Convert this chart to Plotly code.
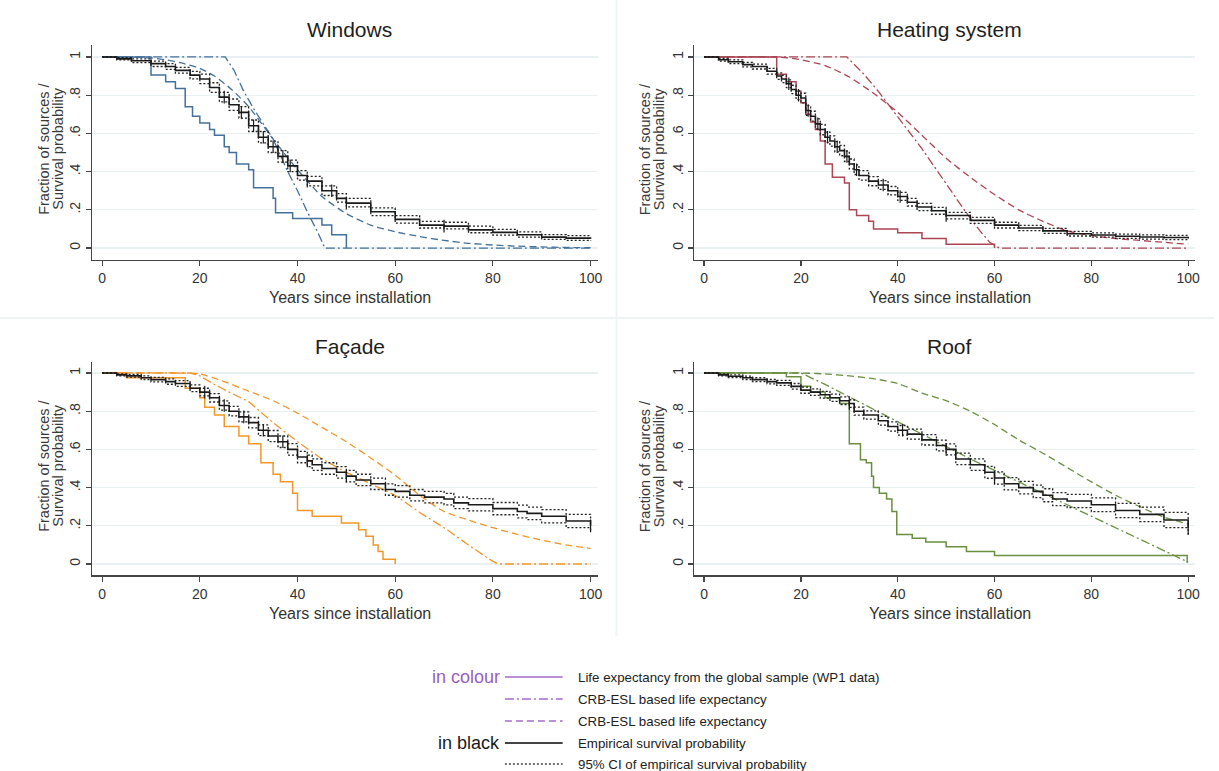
import plotly.graph_objects as go

# ---------------- DATA ----------------
# Windows
win_glob_x = [0, 10, 13, 15, 17, 18.5, 20, 22, 23, 25, 26, 27.5, 30, 31, 35, 35.5, 39, 45, 47, 50]
win_glob_y = [1, 0.905, 0.87, 0.835, 0.74, 0.69, 0.655, 0.62, 0.59, 0.53, 0.50, 0.44, 0.41, 0.315, 0.26, 0.185, 0.155, 0.12, 0.07, 0]
win_dd_x = [0, 25.2, 27, 29, 31, 35, 38, 40, 42, 44, 45.6, 100]
win_dd_y = [1, 1, 0.93, 0.82, 0.73, 0.57, 0.40, 0.30, 0.19, 0.09, 0, 0]
win_da_x = [0, 5, 10, 13, 16, 20, 23, 26.5, 30, 35, 40, 45, 50, 55, 60, 65, 70, 75, 80, 85, 90, 95, 100]
win_da_y = [1, 1, 0.995, 0.985, 0.97, 0.94, 0.9, 0.83, 0.74, 0.57, 0.41, 0.27, 0.18, 0.12, 0.085, 0.06, 0.04, 0.025, 0.016, 0.01, 0.006, 0.003, 0.002]
win_km_x = [0, 3, 6, 10, 13, 15, 18, 20, 22, 24, 26, 28, 30, 32, 34, 36, 38, 40, 42, 45, 48, 50, 55, 60, 65, 70, 75, 80, 85, 90, 95, 100]
win_km_y = [1, 0.99, 0.98, 0.965, 0.95, 0.93, 0.905, 0.885, 0.84, 0.79, 0.75, 0.71, 0.64, 0.58, 0.53, 0.48, 0.43, 0.38, 0.35, 0.30, 0.26, 0.235, 0.19, 0.15, 0.12, 0.115, 0.095, 0.082, 0.07, 0.057, 0.052, 0.049]
win_lo_y = [1, 0.985, 0.97, 0.95, 0.935, 0.915, 0.885, 0.86, 0.815, 0.765, 0.72, 0.68, 0.61, 0.55, 0.50, 0.45, 0.40, 0.355, 0.325, 0.275, 0.24, 0.215, 0.17, 0.13, 0.105, 0.10, 0.08, 0.068, 0.057, 0.045, 0.04, 0.037]
win_hi_y = [1, 0.997, 0.99, 0.978, 0.965, 0.945, 0.925, 0.91, 0.865, 0.815, 0.78, 0.74, 0.67, 0.61, 0.56, 0.51, 0.46, 0.405, 0.375, 0.325, 0.285, 0.26, 0.21, 0.17, 0.14, 0.135, 0.115, 0.098, 0.085, 0.07, 0.065, 0.062]
win_censor_x = [25, 28.5, 31, 33, 35, 37, 38.5, 42, 47, 50, 70]

# Heating system
hea_glob_x = [0, 15, 17, 19, 20, 21, 22, 23, 24, 25, 26.5, 29, 30, 31.5, 34, 35, 40, 45, 50, 60]
hea_glob_y = [1, 0.91, 0.87, 0.82, 0.76, 0.70, 0.66, 0.62, 0.56, 0.44, 0.37, 0.34, 0.20, 0.17, 0.14, 0.10, 0.08, 0.05, 0.02, 0]
hea_dd_x = [0, 29.5, 33, 36, 39, 42, 45, 48, 51, 54, 57, 59, 61, 100]
hea_dd_y = [1, 1, 0.91, 0.82, 0.72, 0.62, 0.52, 0.41, 0.30, 0.19, 0.09, 0.03, 0, 0]
hea_da_x = [0, 15, 19, 25, 30, 35, 40, 45, 50, 55, 60, 65, 70, 75, 80, 85, 90, 95, 100]
hea_da_y = [1, 1, 0.99, 0.955, 0.895, 0.81, 0.71, 0.59, 0.47, 0.37, 0.28, 0.20, 0.14, 0.09, 0.065, 0.05, 0.04, 0.03, 0.02]
hea_km_x = [0, 3, 5, 8, 10, 13, 15, 16, 17, 18, 19, 20, 21, 22, 23, 24, 25, 26, 27, 28, 29, 30, 31, 32, 34, 36, 38, 40, 42, 44, 47, 50, 55, 60, 65, 70, 75, 80, 85, 90, 95, 100]
hea_km_y = [1, 0.985, 0.975, 0.96, 0.95, 0.925, 0.9, 0.885, 0.86, 0.83, 0.8, 0.785, 0.72, 0.69, 0.65, 0.62, 0.58, 0.56, 0.53, 0.51, 0.48, 0.44, 0.41, 0.38, 0.35, 0.33, 0.3, 0.27, 0.24, 0.215, 0.195, 0.17, 0.145, 0.12, 0.105, 0.09, 0.075, 0.068, 0.062, 0.058, 0.055, 0.05]
hea_lo_y = [1, 0.978, 0.965, 0.948, 0.937, 0.91, 0.883, 0.866, 0.84, 0.808, 0.777, 0.76, 0.695, 0.664, 0.624, 0.593, 0.553, 0.533, 0.503, 0.483, 0.453, 0.414, 0.385, 0.355, 0.326, 0.307, 0.278, 0.249, 0.22, 0.196, 0.177, 0.153, 0.129, 0.105, 0.091, 0.077, 0.063, 0.057, 0.051, 0.047, 0.044, 0.038]
hea_hi_y = [1, 0.992, 0.985, 0.972, 0.963, 0.94, 0.917, 0.904, 0.88, 0.852, 0.823, 0.81, 0.745, 0.716, 0.676, 0.647, 0.607, 0.587, 0.557, 0.537, 0.507, 0.466, 0.435, 0.405, 0.374, 0.353, 0.322, 0.291, 0.26, 0.234, 0.213, 0.187, 0.161, 0.135, 0.119, 0.103, 0.087, 0.079, 0.073, 0.069, 0.066, 0.062]
hea_censor_x = [17.5, 19.5, 21.5, 23.5, 25.5, 27.5, 29.5, 31.5, 37, 40.5, 50]

# Facade
fac_glob_x = [0, 5, 17, 20, 21, 23, 25, 28, 30, 32.5, 35, 36.5, 39, 40, 43, 49, 52.5, 54, 55.5, 56.5, 57.5, 60]
fac_glob_y = [1, 0.975, 0.92, 0.87, 0.82, 0.78, 0.72, 0.67, 0.63, 0.53, 0.47, 0.43, 0.37, 0.28, 0.25, 0.215, 0.18, 0.145, 0.10, 0.065, 0.025, 0]
fac_dd_x = [0, 18, 20, 23, 26, 30, 35, 40, 45, 50, 55, 60, 65, 70, 75, 79, 81, 100]
fac_dd_y = [1, 1, 0.985, 0.94, 0.90, 0.85, 0.74, 0.64, 0.55, 0.48, 0.42, 0.36, 0.27, 0.19, 0.10, 0.03, 0, 0]
fac_da_x = [0, 15, 20, 25, 30, 35, 40, 45, 50, 55, 60, 65, 70, 75, 80, 85, 90, 95, 100]
fac_da_y = [1, 1, 0.995, 0.955, 0.905, 0.855, 0.79, 0.715, 0.64, 0.555, 0.465, 0.36, 0.275, 0.23, 0.19, 0.155, 0.125, 0.10, 0.082]
fac_km_x = [0, 3, 5, 8, 10, 13, 15, 18, 20, 22, 24, 26, 28, 30, 32, 34, 36, 38, 40, 42, 43, 45, 48, 50, 52, 55, 58, 60, 63, 66, 70, 72, 75, 80, 85, 87, 90, 95, 100]
fac_km_y = [1, 0.99, 0.985, 0.975, 0.965, 0.955, 0.945, 0.92, 0.9, 0.87, 0.83, 0.8, 0.77, 0.74, 0.7, 0.67, 0.64, 0.6, 0.56, 0.54, 0.52, 0.5, 0.48, 0.46, 0.44, 0.42, 0.39, 0.38, 0.36, 0.35, 0.34, 0.32, 0.31, 0.29, 0.275, 0.265, 0.25, 0.225, 0.2]
fac_lo_y = [1, 0.985, 0.978, 0.965, 0.953, 0.941, 0.93, 0.902, 0.88, 0.848, 0.806, 0.775, 0.744, 0.713, 0.672, 0.641, 0.61, 0.57, 0.53, 0.51, 0.49, 0.47, 0.45, 0.43, 0.41, 0.39, 0.36, 0.35, 0.33, 0.32, 0.31, 0.29, 0.278, 0.258, 0.242, 0.232, 0.215, 0.19, 0.164]
fac_hi_y = [1, 0.995, 0.992, 0.985, 0.977, 0.969, 0.96, 0.938, 0.92, 0.892, 0.854, 0.825, 0.796, 0.767, 0.728, 0.699, 0.67, 0.63, 0.59, 0.57, 0.55, 0.53, 0.51, 0.49, 0.47, 0.45, 0.42, 0.41, 0.39, 0.38, 0.37, 0.35, 0.342, 0.322, 0.308, 0.298, 0.285, 0.26, 0.236]
fac_censor_x = [21, 25, 29, 33, 37, 42, 50, 100]

# Roof
roo_glob_x = [0, 17, 20, 22, 25, 28, 30, 32.3, 33.5, 34.6, 35, 36.2, 37.7, 38.8, 39.8, 43, 45.8, 50, 54.2, 60, 99.8, 100]
roo_glob_y = [1, 0.98, 0.93, 0.9, 0.87, 0.84, 0.63, 0.546, 0.53, 0.46, 0.40, 0.37, 0.34, 0.275, 0.155, 0.135, 0.115, 0.09, 0.065, 0.045, 0.01, 0.01]
roo_dd_x = [0, 20, 25, 30, 35, 40, 45, 50, 55, 60, 65, 70, 75, 80, 85, 90, 95, 100]
roo_dd_y = [1, 1, 0.94, 0.875, 0.81, 0.745, 0.68, 0.615, 0.55, 0.49, 0.43, 0.37, 0.31, 0.25, 0.19, 0.13, 0.07, 0.01]
roo_da_x = [0, 20, 25, 30, 35, 40, 45, 50, 55, 60, 65, 70, 75, 80, 85, 90, 95, 100]
roo_da_y = [1, 1, 0.995, 0.985, 0.97, 0.945, 0.895, 0.855, 0.8, 0.73, 0.65, 0.58, 0.505, 0.43, 0.36, 0.30, 0.245, 0.21]
roo_km_x = [0, 3, 5, 8, 10, 13, 15, 18, 20, 22, 24, 26, 28, 30, 31, 33, 36, 38, 40, 42, 45, 48, 50, 52, 55, 58, 60, 62, 65, 68, 70, 72, 75, 80, 85, 90, 95, 100]
roo_km_y = [1, 0.99, 0.983, 0.975, 0.965, 0.955, 0.948, 0.93, 0.91, 0.9, 0.886, 0.87, 0.855, 0.84, 0.8, 0.78, 0.75, 0.72, 0.7, 0.68, 0.65, 0.62, 0.6, 0.55, 0.52, 0.48, 0.45, 0.42, 0.4, 0.38, 0.36, 0.34, 0.33, 0.31, 0.28, 0.26, 0.23, 0.19]
roo_lo_y = [1, 0.985, 0.976, 0.966, 0.955, 0.943, 0.935, 0.915, 0.894, 0.883, 0.868, 0.851, 0.835, 0.82, 0.779, 0.758, 0.727, 0.696, 0.675, 0.654, 0.623, 0.592, 0.571, 0.52, 0.49, 0.449, 0.418, 0.388, 0.367, 0.347, 0.326, 0.306, 0.295, 0.274, 0.243, 0.222, 0.19, 0.145]
roo_hi_y = [1, 0.995, 0.99, 0.984, 0.975, 0.967, 0.961, 0.945, 0.926, 0.917, 0.904, 0.889, 0.875, 0.86, 0.821, 0.802, 0.773, 0.744, 0.725, 0.706, 0.677, 0.648, 0.629, 0.58, 0.55, 0.511, 0.482, 0.452, 0.433, 0.413, 0.394, 0.374, 0.365, 0.346, 0.317, 0.298, 0.27, 0.235]
roo_censor_x = [30, 41, 50, 60, 100]

titles = ["Windows", "Heating system", "Façade", "Roof"]
colors = ["#44709b", "#ab4652", "#f2962a", "#6a8f40"]
x_ticks = [0, 20, 40, 60, 80, 100]
y_ticks = [0, 0.2, 0.4, 0.6, 0.8, 1]
y_ticktext = ["0", ".2", ".4", ".6", ".8", "1"]
legend_labels = ["Life expectancy from the global sample (WP1 data)",
                 "CRB-ESL based life expectancy",
                 "CRB-ESL based life expectancy",
                 "Empirical survival probability",
                 "95% CI of empirical survival probability"]

panels = [
    (win_glob_x, win_glob_y, win_dd_x, win_dd_y, win_da_x, win_da_y, win_km_x, win_km_y, win_lo_y, win_hi_y, win_censor_x),
    (hea_glob_x, hea_glob_y, hea_dd_x, hea_dd_y, hea_da_x, hea_da_y, hea_km_x, hea_km_y, hea_lo_y, hea_hi_y, hea_censor_x),
    (fac_glob_x, fac_glob_y, fac_dd_x, fac_dd_y, fac_da_x, fac_da_y, fac_km_x, fac_km_y, fac_lo_y, fac_hi_y, fac_censor_x),
    (roo_glob_x, roo_glob_y, roo_dd_x, roo_dd_y, roo_da_x, roo_da_y, roo_km_x, roo_km_y, roo_lo_y, roo_hi_y, roo_censor_x),
]


def step_value(xs, ys, t):
    """Value of a right-continuous step function (hv) at time t."""
    v = ys[0]
    for xx, yy in zip(xs, ys):
        if xx <= t:
            v = yy
        else:
            break
    return v


# ---------------- LAYOUT GEOMETRY ----------------
W, H = 1219, 771
x_domains = [[0.0761, 0.4925], [0.5720, 0.9847], [0.0761, 0.4925], [0.5720, 0.9847]]
y_domains = [[0.6634, 0.9410], [0.6634, 0.9410], [0.2536, 0.5311], [0.2536, 0.5311]]
FONT = "Liberation Sans, Arial, sans-serif"

DASHDOT = "9px,3px,2px,3px"
DASH = "7px,4px"
DOT = "2px,2px"

fig = go.Figure()

for i, (gx, gy, dx, dy, ax_, ay, kx, ky, lo, hi, cx) in enumerate(panels):
    xa = "x" if i == 0 else f"x{i+1}"
    ya = "y" if i == 0 else f"y{i+1}"
    c = colors[i]
    fig.add_trace(go.Scatter(x=ax_, y=ay, mode="lines", line=dict(color=c, width=1.3, dash=DASH, shape="spline", smoothing=0.6),
                             xaxis=xa, yaxis=ya, showlegend=False, hoverinfo="skip"))
    fig.add_trace(go.Scatter(x=dx, y=dy, mode="lines", line=dict(color=c, width=1.3, dash=DASHDOT),
                             xaxis=xa, yaxis=ya, showlegend=False, hoverinfo="skip"))
    fig.add_trace(go.Scatter(x=gx, y=gy, mode="lines", line=dict(color=c, width=1.5, shape="hv"),
                             xaxis=xa, yaxis=ya, showlegend=False, hoverinfo="skip"))
    for band in (lo, hi):
        fig.add_trace(go.Scatter(x=kx, y=band, mode="lines", line=dict(color="#222222", width=1.3, dash=DOT, shape="hv"),
                                 xaxis=xa, yaxis=ya, showlegend=False, hoverinfo="skip"))
    fig.add_trace(go.Scatter(x=kx, y=ky, mode="lines", line=dict(color="#1a1a1a", width=1.6, shape="hv"),
                             xaxis=xa, yaxis=ya, showlegend=False, hoverinfo="skip"))
    cy = [step_value(kx, ky, t) for t in cx]
    fig.add_trace(go.Scatter(x=cx, y=cy, mode="markers",
                             marker=dict(symbol="line-ns", size=9, line=dict(color="#1a1a1a", width=1.2)),
                             xaxis=xa, yaxis=ya, showlegend=False, hoverinfo="skip"))

axis_common = dict(showline=True, linecolor="#454545", linewidth=1.3, ticks="outside", ticklen=5,
                   tickcolor="#454545", tickwidth=1.2, zeroline=False,
                   tickfont=dict(family=FONT, size=14, color="#333333"))

layout = dict(width=W, height=H, margin=dict(l=0, r=0, t=0, b=0),
              paper_bgcolor="white", plot_bgcolor="white", showlegend=False)
for i in range(4):
    xk = "xaxis" if i == 0 else f"xaxis{i+1}"
    yk = "yaxis" if i == 0 else f"yaxis{i+1}"
    ya = "y" if i == 0 else f"y{i+1}"
    xa = "x" if i == 0 else f"x{i+1}"
    layout[xk] = dict(domain=x_domains[i], range=[-2, 101.5], tickvals=x_ticks, anchor=ya,
                      showgrid=False, **axis_common)
    layout[yk] = dict(domain=y_domains[i], range=[-0.06, 1.06], tickvals=y_ticks, ticktext=y_ticktext,
                      tickangle=-90, anchor=xa, showgrid=True, gridcolor="#e8f0f2", gridwidth=1.2,
                      **axis_common)

annotations = []
shapes = []
title_y_px = [30, 30, 347, 347]
xtitle_y_px = [297, 297, 613, 613]
for i in range(4):
    xc = (x_domains[i][0] + x_domains[i][1]) / 2 + 0.004
    annotations.append(dict(text=titles[i], x=xc, y=1 - title_y_px[i] / H, xref="paper", yref="paper",
                            showarrow=False, xanchor="center", yanchor="middle",
                            font=dict(family=FONT, size=21, color="#1e1e1e")))
    annotations.append(dict(text="Years since installation", x=xc, y=1 - xtitle_y_px[i] / H, xref="paper", yref="paper",
                            showarrow=False, xanchor="center", yanchor="middle",
                            font=dict(family=FONT, size=16, color="#333333")))
    ymid = 1 - (149 if i < 2 else 466) / H
    xpx = 44 if i in (0, 2) else 648
    for k, line_txt in enumerate(["Fraction of sources /", "Survival probability"]):
        annotations.append(dict(text=line_txt, x=(xpx + 14 * k) / W, y=ymid,
                                xref="paper", yref="paper", showarrow=False, textangle=-90,
                                xanchor="center", yanchor="middle",
                                font=dict(family=FONT, size=14.5, color="#3a3a3a")))

# panel dividers
shapes.append(dict(type="line", xref="paper", yref="paper", x0=619 / W, x1=619 / W, y0=1 - 636 / H, y1=1,
                   line=dict(color="#eef3f4", width=2)))
shapes.append(dict(type="line", xref="paper", yref="paper", x0=0, x1=1, y0=1 - 318 / H, y1=1 - 318 / H,
                   line=dict(color="#eef3f4", width=2)))

# custom legend
purple = "#a56cc9"
leg_rows_px = [677, 699, 721, 743, 764]
leg_styles = [(purple, "solid", 1.6), (purple, DASHDOT, 1.6), (purple, DASH, 1.6),
              ("#444444", "solid", 1.8), ("#444444", DOT, 1.4)]
for r, (col, dsh, wd) in enumerate(leg_styles):
    yy = 1 - leg_rows_px[r] / H
    shapes.append(dict(type="line", xref="paper", yref="paper", x0=507 / W, x1=565 / W, y0=yy, y1=yy,
                       line=dict(color=col, width=wd, dash=dsh)))
    annotations.append(dict(text=legend_labels[r], x=578 / W, y=yy, xref="paper", yref="paper",
                            showarrow=False, xanchor="left", yanchor="middle",
                            font=dict(family=FONT, size=13.3, color="#222222")))
annotations.append(dict(text="in colour", x=504 / W, y=1 - 677 / H, xref="paper", yref="paper",
                        showarrow=False, xanchor="right", yanchor="middle",
                        font=dict(family=FONT, size=18, color="#9a5ec0")))
annotations.append(dict(text="in black", x=504 / W, y=1 - 743 / H, xref="paper", yref="paper",
                        showarrow=False, xanchor="right", yanchor="middle",
                        font=dict(family=FONT, size=18, color="#1a1a1a")))

layout["annotations"] = annotations
layout["shapes"] = shapes
fig.update_layout(**layout)

fig.write_html("out.html", config={"displayModeBar": False, "staticPlot": True},
               post_script="document.body.style.margin='0';document.body.style.overflow='hidden';")
